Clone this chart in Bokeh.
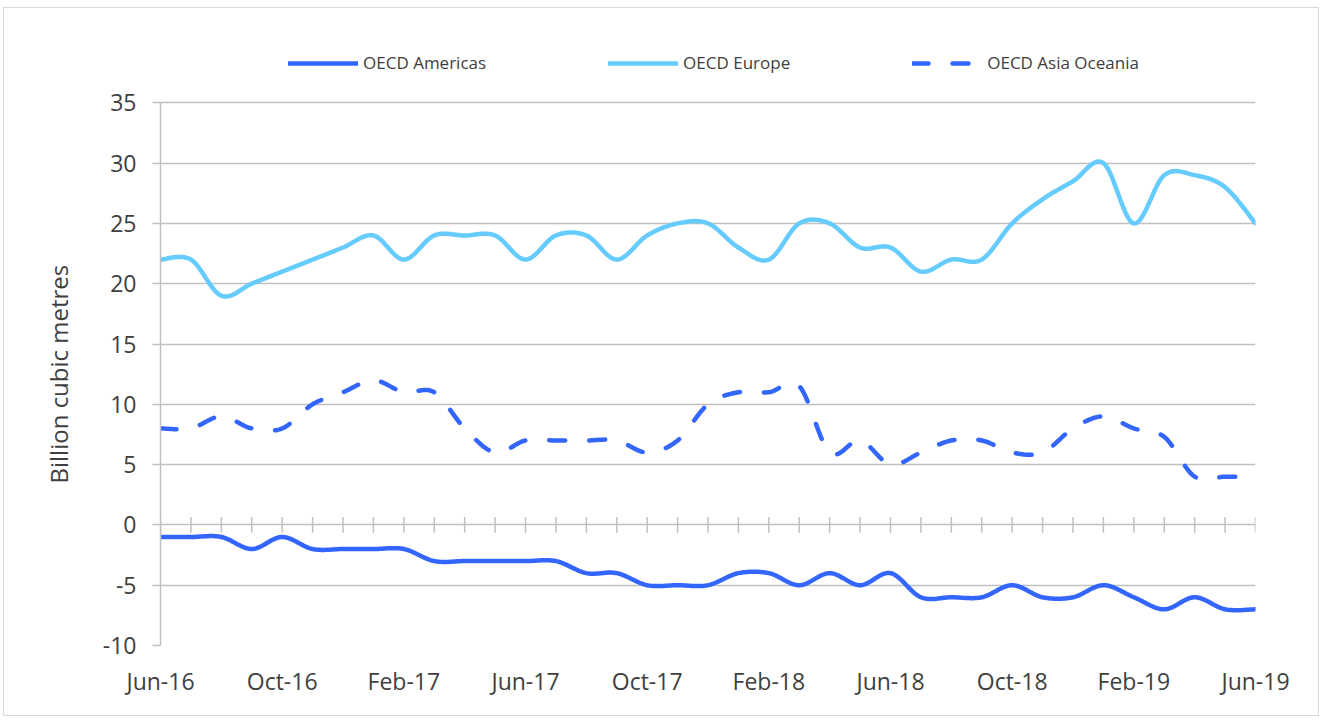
import numpy as np
from bokeh.plotting import figure
from bokeh.models import Range1d, FixedTicker, Legend, LegendItem, Title
from bokeh.embed import file_html
from bokeh.resources import INLINE

# ---------------- data ----------------
months = ["Jun-16", "Jul-16", "Aug-16", "Sep-16", "Oct-16", "Nov-16", "Dec-16", "Jan-17",
          "Feb-17", "Mar-17", "Apr-17", "May-17", "Jun-17", "Jul-17", "Aug-17", "Sep-17",
          "Oct-17", "Nov-17", "Dec-17", "Jan-18", "Feb-18", "Mar-18", "Apr-18", "May-18",
          "Jun-18", "Jul-18", "Aug-18", "Sep-18", "Oct-18", "Nov-18", "Dec-18", "Jan-19",
          "Feb-19", "Mar-19", "Apr-19", "May-19", "Jun-19"]

americas = [-1, -1, -1, -2, -1, -2, -2, -2, -2, -3, -3, -3, -3, -3, -4, -4, -5, -5,
            -5, -4, -4, -5, -4, -5, -4, -6, -6, -6, -5, -6, -6, -5, -6, -7, -6, -7, -7]

europe = [22, 22, 19, 20, 21, 22, 23, 24, 22, 24, 24, 24, 22, 24, 24, 22, 24, 25,
          25, 23, 22, 25, 25, 23, 23, 21, 22, 22, 25, 27, 28.5, 30, 25, 29, 29, 28, 25]

asia_oceania = [8, 8, 9, 8, 8, 10, 11, 12, 11, 11, 8, 6, 7, 7, 7, 7, 6, 7,
                10, 11, 11, 11.5, 6, 7, 5, 6, 7, 7, 6, 6, 8, 9, 8, 7.3, 4, 4, 4]

series_names = ["OECD Americas", "OECD Europe", "OECD Asia Oceania"]
tick_months = list(range(0, len(months), 4))
y_ticks = list(range(-10, 36, 5))
y_title = "Billion cubic metres"

DARK = "#3366FF"
LIGHT = "#66CCFF"
GRID = "#c0c0c0"
TXT = "#404040"
FONT = "Open Sans"


def smooth(xs, ys, n=24):
    """Excel-like smoothed line (Catmull-Rom converted to cubic Bezier)."""
    xs = np.asarray(xs, float)
    ys = np.asarray(ys, float)
    px = np.concatenate([[xs[0]], xs, [xs[-1]]])
    py = np.concatenate([[ys[0]], ys, [ys[-1]]])
    outx, outy = [], []
    t = np.linspace(0, 1, n, endpoint=False)
    for i in range(1, len(px) - 2):
        p0 = np.array([px[i], py[i]])
        p3 = np.array([px[i + 1], py[i + 1]])
        c1 = p0 + (np.array([px[i + 1], py[i + 1]]) - np.array([px[i - 1], py[i - 1]])) / 6.0
        c2 = p3 - (np.array([px[i + 2], py[i + 2]]) - np.array([px[i], py[i]])) / 6.0
        b = ((1 - t) ** 3)[:, None] * p0 + (3 * (1 - t) ** 2 * t)[:, None] * c1 \
            + (3 * (1 - t) * t ** 2)[:, None] * c2 + (t ** 3)[:, None] * p3
        outx.extend(b[:, 0])
        outy.extend(b[:, 1])
    outx.append(xs[-1])
    outy.append(ys[-1])
    return outx, outy


x = list(range(len(months)))

# the frame extends above the 35 gridline to hold the legend
p = figure(width=1316, height=709, output_backend="svg", toolbar_location=None,
           x_range=Range1d(0, len(months) - 1), y_range=Range1d(-10, 40),
           min_border_left=156, min_border_right=65, min_border_bottom=72, min_border_top=34)
p.outline_line_color = None
p.background_fill_color = "white"
p.border_fill_color = "white"
p.styles = {"border": "1px solid #d9d9d9", "margin-left": "3px", "margin-top": "7px"}

# grid
p.xgrid.grid_line_color = None
p.ygrid.grid_line_color = GRID
p.ygrid.grid_line_width = 1.5
p.yaxis.ticker = FixedTicker(ticks=y_ticks)
p.yaxis.major_label_overrides = {v: str(v) for v in y_ticks}
p.yaxis.bounds = (y_ticks[0], y_ticks[-1])

# y axis
p.yaxis.axis_line_color = GRID
p.yaxis.axis_line_width = 1.5
p.yaxis.major_tick_line_color = GRID
p.yaxis.major_tick_line_width = 1.5
p.yaxis.major_tick_out = 8
p.yaxis.major_tick_in = 0
p.yaxis.minor_tick_line_color = None
p.yaxis.major_label_standoff = 16
p.yaxis.major_label_text_font = FONT
p.yaxis.major_label_text_font_size = "23px"
p.yaxis.major_label_text_color = TXT

# y-axis title, placed alongside the 35..-10 part of the frame
p.add_layout(Title(text=y_title, align="left", offset=162, standoff=50,
                   text_font=FONT, text_font_size="24px", text_font_style="normal",
                   text_color=TXT), "left")

# x axis (labels at bottom)
p.xaxis.ticker = FixedTicker(ticks=tick_months)
p.xaxis.major_label_overrides = {i: months[i] for i in tick_months}
p.xaxis.axis_line_color = None
p.xaxis.major_tick_line_color = None
p.xaxis.minor_tick_line_color = None
p.xaxis.major_label_standoff = 13
p.xaxis.major_label_text_font = FONT
p.xaxis.major_label_text_font_size = "23px"
p.xaxis.major_label_text_color = TXT

# category axis crossing at zero: monthly tick marks
p.segment(x0=x, x1=x, y0=[-0.66] * len(x), y1=[0.66] * len(x),
          line_color=GRID, line_width=1.5)

ax, ay = smooth(x, americas)
ex, ey = smooth(x, europe)
sx, sy = smooth(x, asia_oceania)

r1 = p.line(ax, ay, line_color=DARK, line_width=4.5, line_cap="round", line_join="round")
r2 = p.line(ex, ey, line_color=LIGHT, line_width=4.5, line_cap="round", line_join="round")
r3 = p.line(sx, sy, line_color=DARK, line_width=4.5, line_cap="round", line_join="round",
            line_dash="16 24")

legend = Legend(items=[LegendItem(label=series_names[0], renderers=[r1]),
                       LegendItem(label=series_names[1], renderers=[r2]),
                       LegendItem(label=series_names[2], renderers=[r3])],
                orientation="horizontal", location=(128, 571),
                glyph_width=70, glyph_height=18, label_standoff=5, spacing=122,
                label_text_font=FONT, label_text_font_size="17px", label_text_color=TXT,
                label_height=18,
                border_line_color=None, background_fill_alpha=0, margin=0, padding=0)
p.add_layout(legend)

open("out.html", "w").write(file_html(p, INLINE))
